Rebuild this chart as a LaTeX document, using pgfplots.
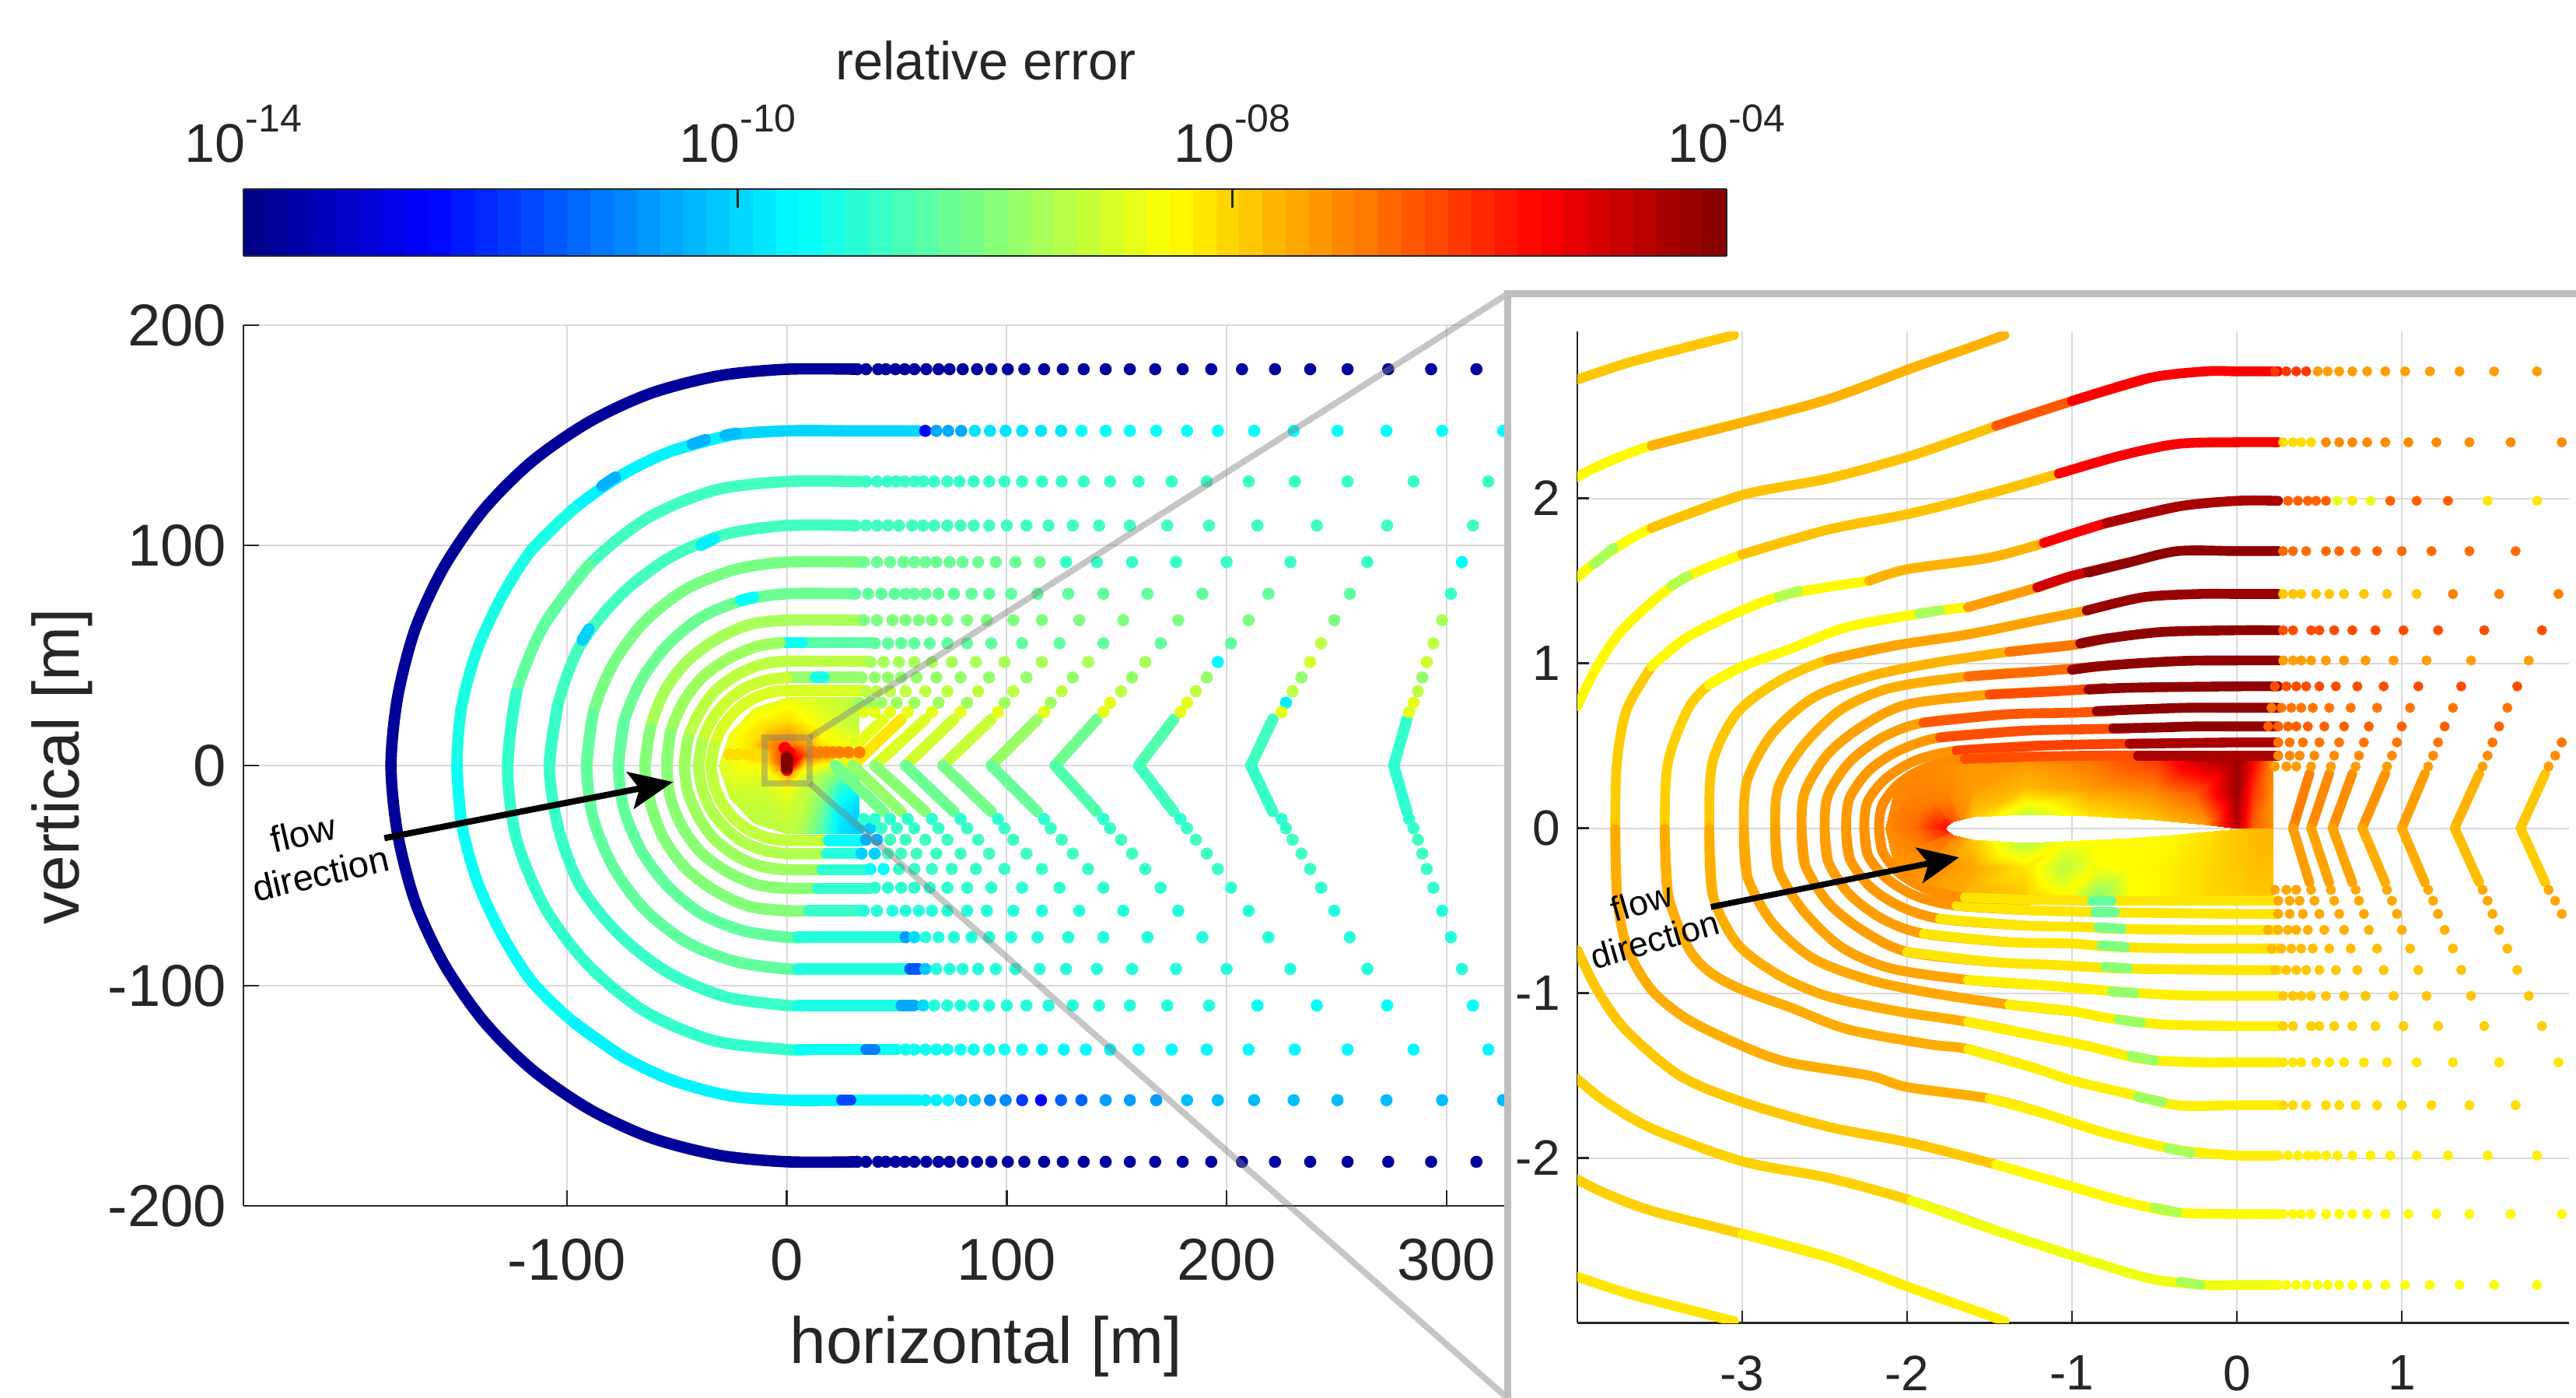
\documentclass[border=0pt]{standalone}
\usepackage{pgfplots}
\pgfplotsset{compat=1.18}
\usepackage{fontspec}
\setmainfont{Liberation Sans}
\usetikzlibrary{arrows.meta}
\definecolor{txt}{RGB}{38,38,38}
\definecolor{grd}{RGB}{218,218,218}
\definecolor{pan}{RGB}{190,190,190}
\newcommand\fs[1]{\fontsize{#1}{#1}\selectfont}
\newcommand\pw[1]{10\raisebox{1.05ex}{\fs{12.5}-#1}}
\pgfplotsset{
 every axis/.append style={colormap/jet, point meta min=0, point meta max=1,
  scale only axis, anchor=south west, enlargelimits=false, axis lines*=left,
  grid=major, grid style={grd,line width=.5pt}, tick align=inside,
  tick style={txt,line width=.6pt}, axis line style={txt,line width=.6pt},
  /pgf/number format/assume math mode=true, ticklabel style={txt}},
 dd/.style={only marks, scatter, mark=*, mark size=1.75pt, scatter/use mapped color={draw=mapped color,fill=mapped color}},
 ee/.style={only marks, scatter, mark=*, mark size=1.42pt, scatter/use mapped color={draw=mapped color,fill=mapped color}},
 rg/.style={mesh, point meta=explicit, line width=3.6pt, line cap=round, line join=round, no marks},
 tg/.style={mesh, point meta=explicit, line width=3.1pt, line cap=round, line join=round, no marks},
 ff/.style={surf, shader=interp, point meta=explicit}
}
\newcommand\D[2]{\addplot[dd,point meta={#1}] coordinates {#2};}
\newcommand\E[2]{\addplot[ee,point meta={#1}] coordinates {#2};}
\newcommand\A[2]{\addplot[smooth,no marks,line width=3.65pt,line cap=round,color of colormap={#1},draw=.] coordinates {#2};}
\newcommand\T[2]{\addplot[smooth,no marks,line width=3.15pt,line cap=round,color of colormap={#1},draw=.] coordinates {#2};}
\begin{document}
\begin{tikzpicture}[x=1pt,y=1pt]
\useasboundingbox (0,0) rectangle (828,449.25);
\begin{axis}[at={(78.25pt,61.75pt)}, width=476.75pt, height=283pt,
 xmin=-247.1, xmax=427.4, ymin=-200, ymax=200,
 xtick={-100,0,100,200,300}, ytick={-200,-100,0,100,200},
 major tick length=5pt,
 xticklabel style={font=\fs{19},yshift=-7pt}, yticklabel style={font=\fs{19},xshift=-2pt},
 colorbar horizontal, colorbar sampled,
 colorbar style={samples=65, at={(0,1.0786)}, anchor=south west, width=476.75pt, height=21.5pt,
  xtick={0,0.3333,0.6667,1}, xticklabels={\pw{14},\pw{10},\pw{08},\pw{04}},
  xticklabel pos=upper, xtick pos=upper, ytick=\empty, grid=none, tick align=inside, major tick length=6pt,
  axis lines=box, xticklabel style={font=\fs{17.5},txt,yshift=5pt}}]
% central field
\addplot[ff,mesh/cols=7] table[meta index=2,row sep=\\]{
0 31 .6\\-15 26 .6\\-26 15 .61\\-31 0 .59\\-26 -15 .57\\-15 -26 .56\\0 -31 .56\\
0 20 .66\\-10 17 .66\\-17 10 .65\\-20 0 .62\\-17 -10 .58\\-10 -17 .57\\0 -20 .58\\
0 10 .76\\-5 8.7 .76\\-8.7 5 .7\\-10 0 .62\\-8.7 -5 .6\\-5 -8.7 .6\\0 -10 .62\\
0 0 .85\\0 0 .85\\0 0 .85\\0 0 .8\\0 0 .75\\0 0 .75\\0 0 .85\\};
\addplot[ff,mesh/cols=5] table[meta index=2,row sep=\\]{
0 31 .6\\8 31 .59\\16 31 .58\\24 31 .57\\33 31 .55\\
0 20 .66\\8 20 .63\\16 20 .6\\24 20 .58\\33 20 .56\\
0 10 .76\\8 10 .72\\16 10 .64\\24 10 .62\\33 10 .6\\
0 5 .92\\8 5 .8\\16 5 .74\\24 5 .72\\33 5 .7\\
0 0 .98\\8 0 .66\\16 0 .62\\24 0 .57\\33 0 .55\\
0 -5 .72\\8 -5 .58\\16 -5 .54\\24 -5 .48\\33 -5 .45\\
0 -10 .62\\8 -10 .57\\16 -10 .52\\24 -10 .42\\33 -10 .37\\
0 -20 .58\\8 -20 .56\\16 -20 .48\\24 -20 .36\\33 -20 .33\\
0 -31 .56\\8 -31 .53\\16 -31 .45\\24 -31 .35\\33 -31 .32\\};
\D{.75}{(12,6)(15,6)(18,6)(21,6)(24,6)(28,6)(33,6)}
\D{.66}{(-26,5)(-22,5)(-18,5)(-14,5)(-11,5)}
\D{.88}{(-1,8)(1,6)(0,-2)}
\D{.94}{(0,4)(0,2)(0,0)}
\D{1}{(0,3)(0,1)(0,-1)}
% rings
\A{25}{(32,180)(0,180)(-31,177)(-62,169)(-90,156)(-116,138)(-138,116)(-156,90)(-169,62)(-177,31)(-180,0)(-177,-31)(-169,-62)(-156,-90)(-138,-116)(-116,-138)(-90,-156)(-62,-169)(-31,-177)(0,-180)(32,-180)}
\A{335}{(60,152)(30,152)(0,152)(-26,150)(-52,143)}
\A{365}{(-26,150)(-52,143)(-75,132)(-97,116.5)(-116,98)}
\A{400}{(-97,116.5)(-116,98)(-130,76)(-141,52)(-148,26)(-150,0)(-148,-26)}
\A{385}{(-150,0)(-148,-26)(-141,-52)(-130,-76)(-116,-98)(-97,-116.5)(-75,-132)}
\A{365}{(-97,-116.5)(-75,-132)(-52,-143)(-26,-150)(0,-152)(30,-152)(60,-152)}
\A{300}{(-43,146)(-37,148)}
\A{310}{(-28,150)(-23,151)}
\A{300}{(-84,127)(-78,131)}
\A{195}{(25,-152)(29,-152)}
\A{440}{(33,129)(0,129)(-33,125)(-64,112)(-90,91)(-110,64.5)}
\A{470}{(-90,91)(-110,64.5)(-123,33)(-127,0)}
\A{425}{(-123,33)(-127,0)(-123,-33)(-110,-64.5)(-90,-91)(-64,-112)(-33,-125)(0,-129)(10,-129)}
\A{385}{(5,-129)(50,-129)}
\A{250}{(36,-129)(40,-129)}
\A{440}{(31,109)(0,109)(-28,105)(-54,94)(-76,77)(-94,54.5)(-104,28)(-108,0)}
\A{430}{(-104,28)(-108,0)(-104,-28)(-94,-54.5)(-76,-77)(-54,-94)(-28,-105)(0,-109)(10,-109)}
\A{400}{(5,-109)(57,-109)}
\A{290}{(52,-109)(58,-109)}
\A{360}{(-39,100)(-33,103)}
\A{330}{(-93,57)(-90,62)}
\A{495}{(33,92.4)(0,92.4)(-23.5,89)(-46,80)(-65,65)(-79,46)(-88,24)(-91,0)}
\A{470}{(-88,24)(-91,0)(-88,-24)(-79,-46)(-65,-65)(-46,-80)(-23.5,-89)(0,-92.4)(10,-92.4)}
\A{405}{(5,-92.4)(58,-92.4)}
\A{210}{(56,-92.4)(60,-92.4)}
\A{480}{(30,78)(0,78)(-20,75)(-38.5,67.5)(-54,55)(-66,39)(-74,20)(-76.5,0)}
\A{470}{(-74,20)(-76.5,0)(-74,-20)(-66,-39)(-54,-55)(-38.5,-67.5)(-20,-75)(0,-78)(10,-78)}
\A{410}{(5,-78)(54,-78)}
\A{380}{(-21,75)(-15,76.5)}
\A{540}{(34,66)(0,66)(-17,64)(-32.5,57)(-46,46.7)(-56,33)(-62,17)(-64.5,0)}
\A{505}{(-62,17)(-64.5,0)(-62,-17)(-56,-33)(-46,-46.7)(-32.5,-57)(-17,-64)(0,-66)(8,-66)}
\A{430}{(10,-66)(34,-66)}
\A{460}{(38,55.8)(0,55.8)}
\A{385}{(-3,55.8)(7,55.8)}
\A{530}{(-3,55.8)(-14,54)(-27.5,48)(-39,39.5)(-47.5,28)(-53,14.4)(-54.5,0)}
\A{510}{(-53,14.4)(-54.5,0)(-53,-14.4)(-47.5,-28)(-39,-39.5)(-27.5,-48)(-14,-54)(0,-55.8)(12,-55.8)}
\A{425}{(14,-55.8)(38,-55.8)}
\A{560}{(36,47.3)(0,47.3)(-12,45.7)(-23,41)(-33,33.4)(-40,23.6)(-45,12)(-46.5,0)}
\A{530}{(-45,12)(-46.5,0)(-45,-12)(-40,-23.6)(-33,-33.4)(-23,-41)(-12,-45.7)(0,-47.3)(14,-47.3)}
\A{420}{(16,-47.3)(36,-47.3)}
\A{520}{(32,40)(0,40)}
\A{400}{(13,40)(17,40)}
\A{575}{(0,40)(-10,38.6)(-20,34.6)(-28,28.3)(-34.5,20)(-38.5,10.4)(-40,0)}
\A{550}{(-38.5,10.4)(-40,0)(-38.5,-10.4)(-34.5,-20)(-28,-28.3)(-20,-34.6)(-10,-38.6)(0,-40)(16,-40)}
\A{410}{(18,-40)(32,-40)}
\A{590}{(34,34)(0,34)(-8.8,32.8)(-17,29.4)(-24,24)(-29.5,17)(-33,8.8)(-34.5,0)}
\A{565}{(-33,8.8)(-34.5,0)(-33,-8.8)(-29.5,-17)(-24,-24)(-17,-29.4)(-8.8,-32.8)(0,-34)(17,-34)}
\A{380}{(19,-34)(34,-34)}
% chevrons
\addplot[rg] coordinates {(282,21)[.43](276,0)[.42](282,-21)[.42]};
\addplot[rg] coordinates {(221,21)[.45](211,0)[.43](221,-21)[.43]};
\addplot[rg] coordinates {(176,21)[.46](160,0)[.45](176,-21)[.43]};
\addplot[rg] coordinates {(141,21)[.5](122,0)[.47](141,-21)[.44]};
\addplot[rg] coordinates {(114,21)[.55](93,0)[.5](114,-21)[.45]};
\addplot[rg] coordinates {(93,21)[.62](71,0)[.52](93,-21)[.46]};
\addplot[rg] coordinates {(76,21)[.66](54,0)[.5](76,-21)[.46]};
\addplot[rg] coordinates {(63,21)[.62](40,0)[.56](63,-21)[.46]};
\addplot[rg] coordinates {(52,21)[.68](30,0)[.62](52,-21)[.42]};
\addplot[rg] coordinates {(44,21)[.6](22,0)[.6](44,-21)[.38]};
% dots, upper half
\D{.03}{(32,180)(36,180)(41.5,180)(45,180)(49.4,180)(53.6,180)(58,180)(63.4,180)(69,180)(74,180)(80,180)(86.5,180)(93,180)(100.5,180)(108,180)(117,180)(125.5,180)(135,180)(145,180)(156,180)(167.5,180)(180,180)(193,180)(207,180)(222,180)(238,180)(255,180)(273.5,180)(293,180)(313.6,180)}
\D{.12}{(63,152)}
\D{.29}{(68,152)(73.4,152)(79.3,152)}
\D{.35}{(85.5,152)(92.4,152)(99.5,152)(107,152)(115.6,152)(124.7,152)}
\D{.38}{(134,152)(145,152)(156,152)(168,152)(182,152)(196,152)(212.5,152)(230.5,152)(250.4,152)(272.7,152)(298,152)(325.7,152)}
\D{.43}{(36,129)(41,129)(45.7,129)(49.7,129)(53.6,129)(58,129)(62,129)(67,129)(73,129)(78.5,129)(85,129)(92,129)(99,129)(107,129)(116,129)(125,129)(135,129)(147,129)(160,129)(175,129)(191,129)(210,129)(231,129)(255,129)(285,129)(319,129)}
\D{.44}{(31,109)(36,109)(41,109)(46,109)(51,109)(57,109)(62,109)(67,109)(73,109)(79,109)(85,109)(92,109)(100,109)(109,109)(119,109)(130,109)(142,109)(156,109)(173,109)(192,109)(214,109)(241,109)(273,109)(312,109)}
\D{.48}{(35,92.4)(41,92.4)(47,92.4)(53,92.4)(58,92.4)(63,92.4)(68,92.4)(74,92.4)(80,92.4)(87,92.4)(95,92.4)(104,92.4)(115,92.4)}
\D{.43}{(127,92.4)(141,92.4)(157,92.4)(177,92.4)(200,92.4)(229,92.4)(264,92.4)}
\D{.38}{(307,92.4)}
\D{.47}{(31,78)(37,78)(43,78)(49,78)(54,78)(58,78)(63,78)(69,78)(76,78)(84,78)(92,78)(102,78)(114,78)(128,78)(144,78)(164,78)(189,78)(219,78)(256,78)}
\D{.43}{(302,78)}
\D{.5}{(35,66)(41,66)(48,66)(54,66)(60,66)(66,66)(73,66)(82,66)(91,66)(103,66)(116,66)(133,66)(153,66)(178,66)(210,66)(249,66)}
\D{.54}{(298,66)}
\D{.47}{(40,55.5)(46,55.5)(52,55.5)(58,55.5)(65,55.5)(73,55.5)(82,55.5)(93,55.5)(107,55.5)(124,55.5)(144,55.5)(170,55.5)(202,55.5)}
\D{.56}{(243,55.5)(294,55.5)}
\D{.54}{(38,47)(44,47)(51,47)(58,47)(66,47)(75,47)(86,47)(99,47)(116,47)(137,47)(163,47)}
\D{.37}{(196,47)}
\D{.58}{(238,47)(291,47)}
\D{.52}{(34,40)(40,40)(46,40)(52,40)(59,40)(68,40)(79,40)(92,40)(109,40)(130,40)(157,40)(191,40)(234,40)(289,40)}
\D{.56}{(36,33.7)(41,33.7)(47,33.7)(54,33.7)(63,33.7)(73,33.7)(87,33.7)(103,33.7)(125,33.7)(152,33.7)(186,33.7)(230,33.7)(287,33.7)}
\D{.53}{(33,28.5)(38,28.5)(43,28.5)(50,28.5)(58,28.5)(69,28.5)(82,28.5)(99,28.5)(120,28.5)}
\D{.36}{(227,28.5)}
\D{.6}{(147,28.5)(182,28.5)(285,28.5)}
\D{.6}{(35,24.3)(40,24.3)(47,24.3)(55,24.3)(66,24.3)(79,24.3)(96,24.3)(117,24.3)(144,24.3)(179,24.3)(225,24.3)(283,24.3)}
% dots, lower half
\D{.03}{(32,-180)(36,-180)(41.5,-180)(45,-180)(49.4,-180)(53.6,-180)(58,-180)(63.4,-180)(69,-180)(74,-180)(80,-180)(86.5,-180)(93,-180)(100.5,-180)(108,-180)(117,-180)(125.5,-180)(135,-180)(145,-180)(156,-180)(167.5,-180)(180,-180)(193,-180)(207,-180)(222,-180)(238,-180)(255,-180)(273.5,-180)(293,-180)(313.6,-180)}
\D{.36}{(63,-152)(68,-152)(73.4,-152)}
\D{.32}{(79.3,-152)(85.5,-152)}
\D{.26}{(92.4,-152)(99.5,-152)}
\D{.18}{(107,-152)}
\D{.12}{(115.6,-152)}
\D{.22}{(124.7,-152)(134,-152)}
\D{.28}{(145,-152)(156,-152)(168,-152)}
\D{.31}{(182,-152)(196,-152)(212.5,-152)(230.5,-152)(250.4,-152)(272.7,-152)(298,-152)(325.7,-152)}
\D{.39}{(54,-129)(58,-129)(63,-129)(68,-129)(73,-129)(79,-129)(85,-129)(92,-129)(99,-129)(107,-129)}
\D{.37}{(116,-129)(126,-129)(136,-129)(147,-129)(160,-129)(175,-129)(191,-129)(210,-129)(231,-129)(255,-129)(285,-129)(319,-129)}
\D{.34}{(62,-109)}
\D{.41}{(67,-109)(73,-109)(79,-109)(85,-109)(92,-109)(100,-109)(109,-109)(119,-109)(130,-109)(142,-109)(156,-109)(173,-109)(192,-109)}
\D{.38}{(214,-109)(241,-109)(273,-109)(312,-109)}
\D{.32}{(63,-92.4)}
\D{.41}{(68,-92.4)(74,-92.4)(80,-92.4)(87,-92.4)(95,-92.4)(104,-92.4)(115,-92.4)(127,-92.4)(141,-92.4)(157,-92.4)(177,-92.4)(200,-92.4)(229,-92.4)(264,-92.4)(307,-92.4)}
\D{.28}{(54,-78)}
\D{.34}{(58,-78)}
\D{.41}{(63,-78)(69,-78)(76,-78)(84,-78)(92,-78)(102,-78)(114,-78)(128,-78)(144,-78)(164,-78)(189,-78)(219,-78)(256,-78)(302,-78)}
\D{.41}{(35,-66)(41,-66)(48,-66)(54,-66)(60,-66)(66,-66)(73,-66)(82,-66)(91,-66)(103,-66)(116,-66)(133,-66)(153,-66)(178,-66)(210,-66)(249,-66)(298,-66)}
\D{.42}{(40,-55.5)(46,-55.5)(52,-55.5)(58,-55.5)(65,-55.5)(73,-55.5)(82,-55.5)(93,-55.5)(107,-55.5)(124,-55.5)(144,-55.5)(170,-55.5)(202,-55.5)(243,-55.5)(294,-55.5)}
\D{.38}{(38,-47)(44,-47)}
\D{.43}{(51,-47)(58,-47)(66,-47)(75,-47)(86,-47)(99,-47)(116,-47)(137,-47)(163,-47)(196,-47)(238,-47)(291,-47)}
\D{.33}{(34,-40)(40,-40)}
\D{.44}{(46,-40)(52,-40)(59,-40)(68,-40)(79,-40)(92,-40)(109,-40)(130,-40)(157,-40)(191,-40)(234,-40)(289,-40)}
\D{.3}{(36,-33.7)(41,-33.7)}
\D{.44}{(47,-33.7)(54,-33.7)(63,-33.7)(73,-33.7)(87,-33.7)(103,-33.7)(125,-33.7)(152,-33.7)(186,-33.7)(230,-33.7)(287,-33.7)}
\D{.33}{(33,-28.5)(38,-28.5)}
\D{.43}{(43,-28.5)(50,-28.5)(58,-28.5)(69,-28.5)(82,-28.5)(99,-28.5)(120,-28.5)(147,-28.5)(182,-28.5)(227,-28.5)(285,-28.5)}
\D{.42}{(35,-24.3)(40,-24.3)(47,-24.3)(55,-24.3)(66,-24.3)(79,-24.3)(96,-24.3)(117,-24.3)(144,-24.3)(179,-24.3)(225,-24.3)(283,-24.3)}
\node[rotate=13,font=\fs{11.8},inner sep=0pt] at (axis cs:-220,-30.6) {flow};
\node[rotate=13,font=\fs{11.8},inner sep=0pt] at (axis cs:-212,-49) {direction};
\draw[line width=2pt,-{Stealth[length=14pt,width=12pt,inset=3pt]}] (axis cs:-183,-33) -- (axis cs:-51.7,-7.5);
\end{axis}
\node[font=\fs{21},txt,rotate=90] at (20,203) {vertical [m]};
\node[font=\fs{21},txt] at (316.9,16.5) {horizontal [m]};
\node[font=\fs{17.2},txt] at (316.9,429.7) {relative error};
% zoom frame
\draw[gray,opacity=.45,line width=2pt] (245.75,197.5) rectangle (260.25,212.25);
\draw[gray,opacity=.45,line width=2pt] (260.25,212.25) -- (484.5,354.75);
\draw[gray,opacity=.45,line width=2pt] (260.25,197.5) -- (484.5,0);
\fill[white] (484.5,-5) rectangle (835,354.75);
\draw[pan,line width=2.25pt] (484.5,-5) -- (484.5,354.75) -- (835,354.75);
\begin{axis}[at={(507pt,24.125pt)}, width=318.75pt, height=318.5pt,
 xmin=-4, xmax=2.014, ymin=-3, ymax=3.01,
 xtick={-3,-2,-1,0,1}, ytick={-2,-1,0,1,2}, major tick length=3.8pt,
 xticklabel style={font=\fs{16},yshift=-7pt}, yticklabel style={font=\fs{16},xshift=-2pt}]
% field around the airfoil
\addplot[ff,mesh/cols=25] table[meta index=2,row sep=\\]{
.22 0 .73\\.1 0 .78\\0 0 .95\\-.2 .02 .72\\-.5 .05 .68\\-.9 .075 .65\\-1.28 .085 .57\\-1.6 .07 .68\\-1.66 .055 .74\\-1.72 .04 .8\\-1.75 .02 .85\\-1.77 0 .87\\-1.75 -.02 .84\\-1.72 -.04 .77\\-1.66 -.055 .72\\-1.6 -.07 .68\\-1.28 -.085 .55\\-1.05 -.08 .62\\-.85 -.07 .63\\-.65 -.06 .63\\-.4 -.04 .63\\-.2 -.02 .65\\0 0 .68\\.1 0 .69\\.22 0 .7\\
.22 .2 .73\\.1 .2 .82\\0 .2 .97\\-.25 .2 .78\\-.5 .22 .74\\-.9 .24 .72\\-1.28 .24 .69\\-1.6 .24 .72\\-1.75 .22 .74\\-1.85 .17 .75\\-1.93 .1 .76\\-1.95 0 .77\\-1.93 -.1 .75\\-1.85 -.17 .74\\-1.75 -.22 .73\\-1.6 -.24 .71\\-1.28 -.24 .65\\-1.05 -.24 .56\\-.85 -.24 .62\\-.65 -.24 .63\\-.4 -.23 .64\\-.2 -.2 .66\\0 -.2 .68\\.1 -.2 .69\\.22 -.2 .69\\
.22 .42 .74\\.1 .42 .88\\0 .42 .98\\-.25 .42 .93\\-.5 .42 .82\\-.9 .42 .76\\-1.28 .42 .73\\-1.7 .41 .73\\-1.87 .38 .74\\-2 .31 .74\\-2.09 .18 .74\\-2.13 0 .74\\-2.09 -.18 .73\\-2 -.31 .73\\-1.87 -.38 .72\\-1.7 -.41 .71\\-1.28 -.42 .68\\-1.05 -.42 .63\\-.85 -.42 .5\\-.65 -.42 .62\\-.4 -.42 .64\\-.2 -.42 .66\\0 -.42 .67\\.1 -.42 .68\\.22 -.42 .68\\};
% stream curves
\T{680}{(-4,2.72)(-3.7,2.82)(-3.4,2.9)(-3.05,2.99)}
\T{630}{(-4,2.13)(-3.84,2.21)(-3.55,2.32)(-3,2.46)}
\T{700}{(-3.55,2.32)(-3,2.46)(-2.48,2.6)(-1.97,2.79)(-1.63,2.91)(-1.41,2.99)}
\T{650}{(-4,-2.72)(-3.7,-2.82)(-3.4,-2.9)(-3.05,-2.99)}
\T{670}{(-4,-2.13)(-3.84,-2.21)(-3.55,-2.32)(-3,-2.46)(-2.48,-2.6)}
\T{640}{(-3,-2.46)(-2.48,-2.6)(-1.97,-2.79)(-1.63,-2.91)(-1.41,-2.99)}
% row 2.77
\T{625}{(-4,1.52)(-3.84,1.65)(-3.55,1.82)(-3,2.02)}
\T{685}{(-3.55,1.82)(-3,2.02)(-2.48,2.12)(-1.97,2.26)(-1.46,2.44)}
\T{790}{(-1.46,2.44)(-1,2.59)(-.53,2.73)}
\T{880}{(-1,2.59)(-.53,2.73)(-.19,2.77)(0,2.77)(.25,2.77)}
\T{540}{(-3.9,1.6)(-3.78,1.7)}
\T{670}{(-4,-1.52)(-3.84,-1.65)(-3.55,-1.82)(-3,-2.02)(-2.48,-2.12)(-1.97,-2.26)(-1.46,-2.44)}
\T{610}{(-1.97,-2.26)(-1.46,-2.44)(-1,-2.59)(-.53,-2.73)(-.19,-2.77)(0,-2.77)(.25,-2.77)}
\T{540}{(-.34,-2.75)(-.22,-2.77)}
% row 2.34
\T{630}{(-4,.74)(-3.88,.98)(-3.71,1.22)(-3.38,1.5)(-3,1.66)}
\T{685}{(-3,1.66)(-2.48,1.81)(-1.97,1.91)(-1.46,2.04)(-1.08,2.15)}
\T{880}{(-1.08,2.15)(-.7,2.26)(-.36,2.33)(0,2.34)(.25,2.34)}
\T{550}{(-3.43,1.47)(-3.33,1.53)}
\T{680}{(-4,-.74)(-3.88,-.98)(-3.71,-1.22)(-3.38,-1.5)(-3,-1.66)(-2.48,-1.81)(-1.97,-1.91)(-1.46,-2.04)}
\T{630}{(-1.46,-2.04)(-1.08,-2.15)(-.7,-2.26)(-.36,-2.33)(0,-2.34)(.25,-2.34)}
\T{550}{(-.5,-2.3)(-.36,-2.33)}
% row 1.985
\T{675}{(-3.76,-.4)(-3.77,0)(-3.76,.4)(-3.7,.72)(-3.55,.98)}
\T{630}{(-3.55,.98)(-3.33,1.16)(-3,1.32)(-2.72,1.42)(-2.23,1.5)}
\T{700}{(-2.23,1.5)(-2,1.57)(-1.5,1.64)(-1.17,1.73)}
\T{880}{(-1.17,1.73)(-.79,1.85)(-.36,1.95)}
\T{960}{(-.79,1.85)(-.36,1.95)(0,1.985)(.25,1.985)}
\T{550}{(-2.78,1.4)(-2.66,1.44)}
\T{705}{(-3.77,0)(-3.76,-.4)(-3.7,-.72)(-3.55,-.98)(-3.33,-1.16)(-3,-1.32)(-2.72,-1.42)(-2.23,-1.5)(-2,-1.57)(-1.5,-1.64)(-1.17,-1.73)}
\T{640}{(-1.5,-1.64)(-1.17,-1.73)(-.79,-1.85)(-.36,-1.95)(0,-1.985)(.25,-1.985)}
\T{540}{(-.42,-1.94)(-.28,-1.97)}
% row 1.68
\T{670}{(-3.45,-.4)(-3.47,0)(-3.45,.4)(-3.33,.72)(-3.2,.87)(-3,.98)}
\T{630}{(-3.2,.87)(-3,.98)(-2.7,1.09)(-2.36,1.22)(-1.87,1.31)(-1.63,1.34)}
\T{720}{(-1.63,1.34)(-1.21,1.46)(-1,1.53)}
\T{920}{(-1.21,1.46)(-1,1.53)(-.66,1.61)}
\T{985}{(-.9,1.55)(-.66,1.61)(-.36,1.68)(0,1.68)(.25,1.68)}
\T{540}{(-1.93,1.3)(-1.8,1.32)}
\T{705}{(-3.47,0)(-3.45,-.4)(-3.33,-.72)(-3.2,-.87)(-3,-.98)(-2.7,-1.09)(-2.36,-1.22)(-1.87,-1.31)(-1.63,-1.34)(-1.21,-1.46)}
\T{640}{(-1.63,-1.34)(-1.21,-1.46)(-1,-1.53)(-.66,-1.61)(-.36,-1.68)(0,-1.68)(.25,-1.68)}
\T{530}{(-.6,-1.63)(-.45,-1.66)}
% row 1.42
\T{680}{(-3.18,-.4)(-3.2,0)(-3.18,.4)(-3.03,.7)(-2.78,.89)(-2.48,1.02)(-2.06,1.11)}
\T{715}{(-2.48,1.02)(-2.06,1.11)(-1.63,1.175)(-1.21,1.26)(-.91,1.32)}
\T{975}{(-.91,1.32)(-.57,1.4)(-.23,1.42)(0,1.42)(.25,1.42)}
\T{705}{(-3.2,0)(-3.18,-.4)(-3.03,-.7)(-2.78,-.89)(-2.48,-1.02)(-2.06,-1.11)(-1.63,-1.175)(-1.21,-1.26)}
\T{640}{(-1.63,-1.175)(-1.21,-1.26)(-.91,-1.32)(-.57,-1.4)(-.23,-1.42)(0,-1.42)(.25,-1.42)}
\T{530}{(-.64,-1.38)(-.5,-1.41)}
% row 1.2
\T{700}{(-2.97,-.29)(-2.99,0)(-2.97,.29)(-2.82,.57)(-2.57,.79)(-2.23,.92)(-1.85,1)(-1.38,1.07)(-1,1.11)}
\T{760}{(-1.38,1.07)(-1,1.11)(-.79,1.15)}
\T{985}{(-.95,1.12)(-.79,1.15)(-.45,1.19)(0,1.2)(.25,1.2)}
\T{710}{(-2.99,0)(-2.97,-.29)(-2.82,-.57)(-2.57,-.79)(-2.23,-.92)(-1.85,-1)(-1.38,-1.07)(-1,-1.11)}
\T{640}{(-1.38,-1.07)(-1,-1.11)(-.79,-1.15)(-.45,-1.19)(0,-1.2)(.25,-1.2)}
\T{530}{(-.72,-1.16)(-.58,-1.18)}
% row 1.017
\T{705}{(-2.78,-.25)(-2.8,0)(-2.78,.25)(-2.63,.5)(-2.4,.72)(-2.1,.85)(-1.63,.92)(-1.21,.95)}
\T{770}{(-1.63,.92)(-1.21,.95)(-.85,.98)}
\T{985}{(-1,.96)(-.85,.98)(-.6,1)(-.3,1.015)(0,1.017)(.25,1.017)}
\T{715}{(-2.8,0)(-2.78,-.25)(-2.63,-.5)(-2.4,-.72)(-2.1,-.85)(-1.63,-.92)(-1.21,-.95)}
\T{640}{(-1.63,-.92)(-1.21,-.95)(-.85,-.98)(-.6,-1)(-.3,-1.015)(0,-1.017)(.25,-1.017)}
\T{520}{(-.76,-.99)(-.62,-1)}
% row .86
\T{715}{(-2.62,-.22)(-2.64,0)(-2.62,.22)(-2.48,.45)(-2.27,.62)(-2,.75)(-1.5,.81)(-1.1,.83)}
\T{800}{(-1.5,.81)(-1.1,.83)(-.8,.85)}
\T{985}{(-.9,.84)(-.7,.85)(-.45,.855)(0,.86)(.25,.86)}
\T{720}{(-2.64,0)(-2.62,-.22)(-2.48,-.45)(-2.27,-.62)(-2,-.75)(-1.5,-.81)}
\T{650}{(-2,-.75)(-1.5,-.81)(-1.1,-.83)(-.72,-.85)(-.45,-.855)(0,-.86)(.25,-.86)}
\T{510}{(-.8,-.84)(-.66,-.85)}
% row .73
\T{720}{(-2.48,-.2)(-2.5,0)(-2.48,.2)(-2.35,.4)(-2.15,.55)(-1.9,.64)(-1.4,.69)}
\T{790}{(-1.9,.64)(-1.4,.69)(-1,.7)(-.75,.71)}
\T{985}{(-.85,.71)(-.6,.72)(-.3,.73)(0,.73)(.25,.73)}
\T{720}{(-2.5,0)(-2.48,-.2)(-2.35,-.4)(-2.15,-.55)(-1.9,-.64)(-1.4,-.69)}
\T{650}{(-1.9,-.64)(-1.4,-.69)(-1,-.7)(-.74,-.72)(-.3,-.73)(0,-.73)(.25,-.73)}
\T{500}{(-.82,-.71)(-.68,-.72)}
% row .617
\T{725}{(-2.35,-.18)(-2.37,0)(-2.35,.18)(-2.23,.35)(-2.05,.47)(-1.8,.55)(-1.3,.59)}
\T{800}{(-1.8,.55)(-1.3,.59)(-.9,.6)(-.65,.605)}
\T{985}{(-.75,.605)(-.5,.61)(-.25,.617)(0,.617)(.25,.617)}
\T{725}{(-2.37,0)(-2.35,-.18)(-2.23,-.35)(-2.05,-.47)(-1.8,-.55)(-1.3,-.59)}
\T{650}{(-1.8,-.55)(-1.3,-.59)(-.9,-.6)(-.76,-.61)(-.25,-.617)(0,-.617)(.25,-.617)}
\T{490}{(-.84,-.6)(-.7,-.61)}
% row .52
\T{730}{(-2.24,-.16)(-2.26,0)(-2.24,.16)(-2.13,.3)(-1.95,.41)(-1.7,.47)(-1.2,.5)}
\T{810}{(-1.7,.47)(-1.2,.5)(-.8,.51)(-.55,.512)}
\T{960}{(-.65,.512)(-.4,.515)(0,.52)(.25,.52)}
\T{730}{(-2.26,0)(-2.24,-.16)(-2.13,-.3)(-1.95,-.41)(-1.7,-.47)(-1.2,-.5)}
\T{650}{(-1.7,-.47)(-1.2,-.5)(-.8,-.51)(-.4,-.515)(0,-.52)(.25,-.52)}
\T{480}{(-.86,-.51)(-.74,-.51)}
% row .44
\T{740}{(-2.15,-.14)(-2.17,0)(-2.15,.14)(-2.05,.27)(-1.88,.37)(-1.65,.42)(-1.2,.435)}
\T{800}{(-1.65,.42)(-1.2,.435)(-.8,.44)(-.5,.44)}
\T{960}{(-.6,.44)(-.4,.44)(0,.44)(.25,.44)}
\T{735}{(-2.17,0)(-2.15,-.14)(-2.05,-.27)(-1.88,-.37)(-1.65,-.42)(-1.2,-.435)}
\T{650}{(-1.65,-.42)(-1.2,-.435)(-.8,-.44)(-.4,-.44)(0,-.44)(.25,-.44)}
\T{470}{(-.88,-.44)(-.76,-.44)}
% chevrons
\addplot[tg] coordinates {(1.87,.33)[.67](1.72,0)[.69](1.87,-.33)[.66]};
\addplot[tg] coordinates {(1.47,.33)[.7](1.32,0)[.7](1.47,-.33)[.68]};
\addplot[tg] coordinates {(1.14,.33)[.72](1,0)[.72](1.14,-.33)[.69]};
\addplot[tg] coordinates {(.9,.33)[.74](.76,0)[.72](.9,-.33)[.69]};
\addplot[tg] coordinates {(.7,.33)[.74](.58,0)[.73](.7,-.33)[.7]};
\addplot[tg] coordinates {(.56,.33)[.75](.45,0)[.73](.56,-.33)[.7]};
\addplot[tg] coordinates {(.44,.33)[.76](.34,0)[.74](.44,-.33)[.7]};
% dots upper
\E{.82}{(.23,2.77)(.3,2.77)(.36,2.77)(.42,2.77)}
\E{.72}{(.49,2.77)(.55,2.77)(.62,2.77)(.7,2.77)(.79,2.77)(.9,2.77)(1.02,2.77)(1.17,2.77)(1.35,2.77)(1.56,2.77)(1.82,2.77)}
\E{.66}{(.28,2.34)(.34,2.34)(.39,2.34)(.45,2.34)}
\E{.74}{(.54,2.34)(.62,2.34)(.7,2.34)(.79,2.34)(.9,2.34)(1.04,2.34)(1.21,2.34)(1.41,2.34)(1.66,2.34)(1.97,2.34)}
\E{.78}{(.31,1.985)(.37,1.985)(.43,1.985)(.48,1.985)(.54,1.985)(.93,1.985)(1.09,1.985)(1.28,1.985)}
\E{.6}{(.61,1.985)(.81,1.985)}
\E{.65}{(.7,1.985)(1.52,1.985)(1.82,1.985)}
\E{.77}{(.28,1.68)(.34,1.68)(.42,1.68)(.54,1.68)(.62,1.68)(.72,1.68)(.85,1.68)(1,1.68)(1.18,1.68)(1.41,1.68)(1.69,1.68)}
\E{.68}{(.28,1.42)(.34,1.42)(.39,1.42)(.48,1.42)(.56,1.42)(.65,1.42)(.77,1.42)(.91,1.42)(1.09,1.42)}
\E{.75}{(1.31,1.42)(1.59,1.42)(1.95,1.42)}
\E{.8}{(.28,1.2)(.34,1.2)(.45,1.2)(.5,1.2)(.59,1.2)(.7,1.2)(.84,1.2)(1.01,1.2)(1.22,1.2)(1.5,1.2)(1.85,1.2)}
\E{.72}{(.28,1.017)(.34,1.017)(.39,1.017)(.45,1.017)(.54,1.017)(.65,1.017)(.78,1.017)(.95,1.017)(1.15,1.017)(1.42,1.017)(1.77,1.017)}
\E{.8}{(.23,.86)(.3,.86)(.36,.86)(.42,.86)(.5,.86)(.6,.86)(.73,.86)(.89,.86)(1.1,.86)(1.36,.86)(1.7,.86)}
\E{.76}{(.21,.73)(.27,.73)(.33,.73)(.39,.73)(.46,.73)(.56,.73)(.69,.73)(.85,.73)(1.05,.73)(1.31,.73)(1.64,.73)}
\E{.78}{(.19,.617)(.25,.617)(.31,.617)(.36,.617)(.43,.617)(.53,.617)(.65,.617)(.8,.617)(1,.617)(1.26,.617)(1.59,.617)}
\E{.76}{(.25,.52)(.32,.52)(.4,.52)(.5,.52)(.62,.52)(.77,.52)(.97,.52)(1.22,.52)(1.55,.52)(1.97,.52)}
\E{.74}{(.25,.44)(.32,.44)(.38,.44)(.47,.44)(.59,.44)(.74,.44)(.94,.44)(1.19,.44)(1.52,.44)(1.93,.44)}
\E{.72}{(.23,.374)(.3,.374)(.36,.374)(.45,.374)(.57,.374)(.72,.374)(.91,.374)(1.16,.374)(1.49,.374)(1.89,.374)}
% dots lower
\E{.62}{(.23,-2.77)(.3,-2.77)(.36,-2.77)(.42,-2.77)(.49,-2.77)(.55,-2.77)(.62,-2.77)(.7,-2.77)(.79,-2.77)(.9,-2.77)(1.02,-2.77)(1.17,-2.77)(1.35,-2.77)(1.56,-2.77)(1.82,-2.77)}
\E{.63}{(.28,-2.34)(.34,-2.34)(.39,-2.34)(.45,-2.34)(.54,-2.34)(.62,-2.34)(.7,-2.34)(.79,-2.34)(.9,-2.34)(1.04,-2.34)(1.21,-2.34)(1.41,-2.34)(1.66,-2.34)(1.97,-2.34)}
\E{.64}{(.31,-1.985)(.37,-1.985)(.43,-1.985)(.48,-1.985)(.54,-1.985)(.61,-1.985)(.7,-1.985)(.81,-1.985)(.93,-1.985)(1.09,-1.985)(1.28,-1.985)(1.52,-1.985)(1.82,-1.985)}
\E{.66}{(.28,-1.68)(.34,-1.68)(.42,-1.68)(.54,-1.68)(.62,-1.68)(.72,-1.68)(.85,-1.68)(1,-1.68)(1.18,-1.68)(1.41,-1.68)(1.69,-1.68)}
\E{.65}{(.28,-1.42)(.34,-1.42)(.39,-1.42)(.48,-1.42)(.56,-1.42)(.65,-1.42)(.77,-1.42)(.91,-1.42)(1.09,-1.42)(1.31,-1.42)(1.59,-1.42)(1.95,-1.42)}
\E{.67}{(.28,-1.2)(.34,-1.2)(.45,-1.2)(.5,-1.2)(.59,-1.2)(.7,-1.2)(.84,-1.2)(1.01,-1.2)(1.22,-1.2)(1.5,-1.2)(1.85,-1.2)}
\E{.68}{(.28,-1.017)(.34,-1.017)(.39,-1.017)(.45,-1.017)(.54,-1.017)(.65,-1.017)(.78,-1.017)(.95,-1.017)(1.15,-1.017)(1.42,-1.017)(1.77,-1.017)}
\E{.68}{(.23,-.86)(.3,-.86)(.36,-.86)(.42,-.86)(.5,-.86)(.6,-.86)(.73,-.86)(.89,-.86)(1.1,-.86)(1.36,-.86)(1.7,-.86)}
\E{.69}{(.21,-.73)(.27,-.73)(.33,-.73)(.39,-.73)(.46,-.73)(.56,-.73)(.69,-.73)(.85,-.73)(1.05,-.73)(1.31,-.73)(1.64,-.73)}
\E{.7}{(.19,-.617)(.25,-.617)(.31,-.617)(.36,-.617)(.43,-.617)(.53,-.617)(.65,-.617)(.8,-.617)(1,-.617)(1.26,-.617)(1.59,-.617)}
\E{.71}{(.25,-.52)(.32,-.52)(.4,-.52)(.5,-.52)(.62,-.52)(.77,-.52)(.97,-.52)(1.22,-.52)(1.55,-.52)(1.97,-.52)}
\E{.71}{(.25,-.44)(.32,-.44)(.38,-.44)(.47,-.44)(.59,-.44)(.74,-.44)(.94,-.44)(1.19,-.44)(1.52,-.44)(1.93,-.44)}
\E{.71}{(.23,-.374)(.3,-.374)(.36,-.374)(.45,-.374)(.57,-.374)(.72,-.374)(.91,-.374)(1.16,-.374)(1.49,-.374)(1.89,-.374)}
\node[rotate=16,font=\fs{11.2},inner sep=0pt] at (axis cs:-3.61,-.448) {flow};
\node[rotate=16,font=\fs{11.2},inner sep=0pt] at (axis cs:-3.53,-.676) {direction};
\draw[line width=1.9pt,-{Stealth[length=13pt,width=11.5pt,inset=3pt]}] (axis cs:-3.19,-.478) -- (axis cs:-1.685,-.177);
\end{axis}
\end{tikzpicture}
\end{document}
